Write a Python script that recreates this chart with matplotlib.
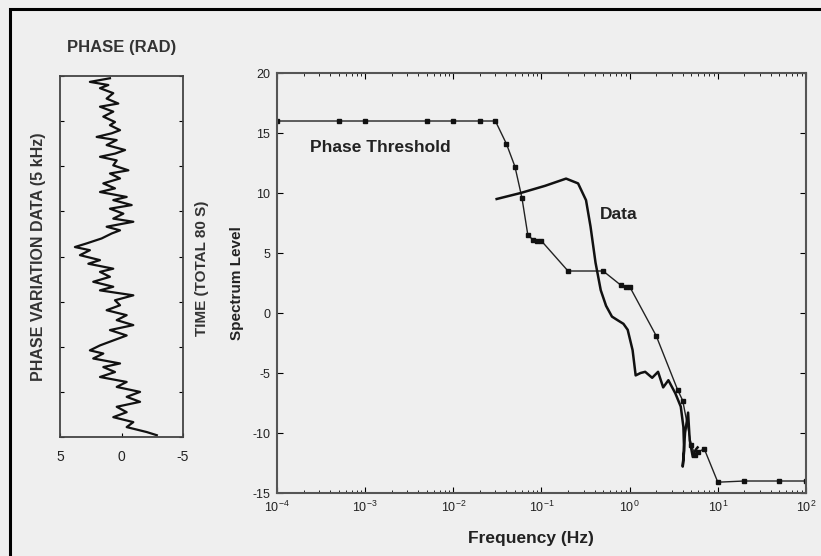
import numpy as np
import matplotlib
matplotlib.use("Agg")
import matplotlib.pyplot as plt
from matplotlib.ticker import LogLocator, NullFormatter, MultipleLocator
from matplotlib.patches import Rectangle

plt.rcParams['font.family'] = ['Liberation Sans', 'DejaVu Sans']
plt.rcParams['axes.unicode_minus'] = False

# phase variation trace (time in s, phase in rad)
trace_t = [79.5, 78.7, 78.0, 77.3, 76.2, 75.0, 73.9, 73.2, 72.1, 71.0, 69.8, 69.1,
           68.0, 67.3, 66.5, 65.8, 64.7, 63.6, 62.8, 62.1, 61.3, 60.2, 59.1, 58.4,
           57.3, 56.2, 55.1, 54.3, 53.2, 52.5, 51.4, 50.6, 49.5, 48.4, 47.7, 46.6,
           45.8, 45.1, 44.0, 42.9, 42.1, 41.4, 40.3, 39.2, 38.4, 37.3, 36.6, 35.5,
           34.4, 33.3, 32.5, 31.4, 30.3, 29.2, 28.1, 27.0, 25.9, 24.8, 23.7, 22.5,
           21.4, 20.3, 19.2, 18.5, 17.4, 16.3, 15.5, 14.4, 13.3, 12.2, 11.1, 10.0,
           8.9, 7.8, 6.7, 5.5, 4.4, 3.3, 2.2, 1.1, 0.4]
trace_phase = [0.94, 2.57, 1.07, 1.75, 0.67, 1.21, 0.26, 1.75, 0.67, 1.48, 0.53, 0.94,
               0.12, 0.80, 2.02, 0.39, 1.21, -0.29, 0.53, 1.75, 0.39, 0.67, -0.56, 0.94,
               0.12, 1.48, 0.53, 1.75, -0.42, 0.67, -0.83, 0.94, -0.15, 0.67, -0.96, 1.21,
               0.12, 0.80, 1.62, 2.84, 3.79, 2.57, 3.38, 1.75, 2.70, 0.67, 1.75, 0.94,
               2.30, 0.67, 1.75, -0.96, 0.53, 0.12, 1.21, -0.42, 0.39, -0.96, 0.94, -0.42,
               0.67, 1.75, 2.57, 1.48, 2.30, 0.12, 1.48, 0.53, 1.75, -0.42, 0.39, -1.51,
               -0.42, -1.51, 0.39, -0.42, 0.67, -0.96, -0.42, -2.05, -2.87]

# phase threshold curve
thr_f = [1e-4, 5e-4, 1e-3, 5e-3, 1e-2, 2e-2, 3e-2, 4e-2, 5e-2, 6e-2, 7e-2, 8e-2,
         9e-2, 0.1, 0.2, 0.5, 0.8, 0.9, 1.0, 2.0, 3.5, 4.0, 5.0, 5.5, 6.0, 7.0,
         10, 20, 50, 100]
thr_v = [16, 16, 16, 16, 16, 16, 16, 14.1, 12.2, 9.6, 6.5, 6.1,
         6.0, 6.0, 3.5, 3.5, 2.3, 2.2, 2.2, -1.9, -6.4, -7.3, -11.0, -11.8, -11.6, -11.3,
         -14.1, -14, -14, -14]

# measured data spectrum
data_f = [0.031, 0.058, 0.11, 0.19, 0.26, 0.32, 0.36, 0.41, 0.47, 0.54, 0.63, 0.73,
          0.85, 0.95, 1.08, 1.17, 1.33, 1.5, 1.8, 2.1, 2.4, 2.75, 3.3, 3.8, 4.07,
          4.15, 4.0, 4.25, 4.6, 4.8, 5.2, 5.6, 5.9]
data_v = [9.5, 10.0, 10.6, 11.2, 10.8, 9.4, 7.2, 4.2, 1.9, 0.6, -0.3, -0.6,
          -0.9, -1.4, -3.1, -5.2, -5.0, -4.9, -5.4, -4.9, -6.2, -5.6, -6.7, -7.8, -9.5,
          -11.5, -12.8, -10.0, -8.3, -10.6, -12.0, -11.4, -11.2]

bg = '#efefef'
ink = '#222222'
fig = plt.figure(figsize=(8.21, 5.56), dpi=100, facecolor=bg)
fig.patches.append(Rectangle((10 / 821, -0.1), 1.2, 1 - 9 / 556 + 0.1, transform=fig.transFigure,
                             fill=False, edgecolor='black', linewidth=2.2))

# left panel: phase trace
ax1 = fig.add_axes([0.0731, 0.214, 0.1498, 0.6493])
ax1.set_facecolor(bg)
ax1.plot(trace_phase, trace_t, color='#111111', linewidth=1.6)
ax1.set_xlim(5, -5)
ax1.set_ylim(0, 80)
ax1.set_xticks([5, 0, -5])
ax1.set_xticklabels(['5', '0', '-5'])
ax1.yaxis.set_major_locator(MultipleLocator(10))
ax1.set_yticklabels([])
ax1.tick_params(direction='in', length=3, labelsize=10, right=True, top=False, pad=9,
                labelcolor=ink)
for s in ax1.spines.values():
    s.set_color('#444444')
    s.set_linewidth(1.3)
ax1.set_title('PHASE (RAD)', fontsize=12, fontweight='bold', color='#333333', pad=17)
ax1.set_ylabel('PHASE VARIATION DATA (5 kHz)', fontsize=11.5, fontweight='bold',
               color='#333333', labelpad=1)
fig.text(202 / 821, 1 - 268 / 556, 'TIME (TOTAL 80 S)', rotation=90, fontsize=11,
         fontweight='bold', color='#333333', ha='center', va='center')

# right panel: spectrum
ax2 = fig.add_axes([0.3374, 0.1133, 0.6443, 0.7554])
ax2.set_facecolor(bg)
ax2.set_xscale('log')
ax2.plot(thr_f, thr_v, color='#222222', linewidth=1.0, marker='s', markersize=3,
         markerfacecolor='#111111', markeredgecolor='#111111')
ax2.plot(data_f, data_v, color='#111111', linewidth=1.8)
ax2.set_xlim(1e-4, 1e2)
ax2.set_ylim(-15, 20)
ax2.set_yticks([20, 15, 10, 5, 0, -5, -10, -15])
ax2.xaxis.set_major_locator(LogLocator(base=10, numticks=10))
ax2.xaxis.set_minor_locator(LogLocator(base=10, subs=np.arange(2, 10), numticks=10))
ax2.xaxis.set_minor_formatter(NullFormatter())
ax2.tick_params(which='both', direction='in', top=True, right=True, labelsize=9, pad=5,
                labelcolor=ink)
ax2.tick_params(which='major', length=4)
ax2.tick_params(which='minor', length=2)
for s in ax2.spines.values():
    s.set_color('#555555')
    s.set_linewidth(1.5)
ax2.set_xlabel('Frequency (Hz)', fontsize=12.5, fontweight='bold', color=ink)
ax2.xaxis.set_label_coords(0.48, -0.09)
ax2.set_ylabel('Spectrum Level', fontsize=11, fontweight='bold', color=ink, labelpad=6)
ax2.text(2.37e-4, 13.8, 'Phase Threshold', fontsize=12.5, fontweight='bold', color=ink,
         ha='left', va='center')
ax2.text(0.457, 8.2, 'Data', fontsize=12.5, fontweight='bold', color=ink,
         ha='left', va='center')

fig.savefig('out.png', dpi=100, facecolor=bg)
